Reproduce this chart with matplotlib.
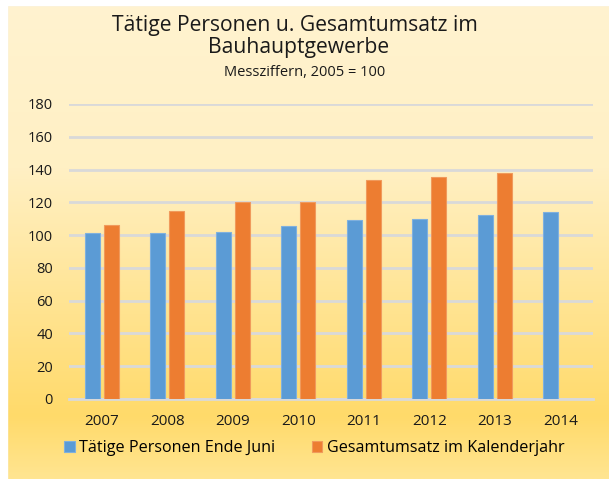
import matplotlib.pyplot as plt
import numpy as np
from matplotlib.colors import LinearSegmentedColormap
from matplotlib.patches import Rectangle

# Data
years = ["2007", "2008", "2009", "2010", "2011", "2012", "2013", "2014"]
personen = [101.0, 101.5, 102.0, 105.5, 109.0, 110.0, 112.5, 114.0]
umsatz = [106.0, 114.5, 120.0, 120.0, 133.5, 135.5, 138.0, None]
yticks = [0, 20, 40, 60, 80, 100, 120, 140, 160, 180]

plt.rcParams['font.family'] = ['Open Sans', 'DejaVu Sans']

fig = plt.figure(figsize=(6.09, 4.79), dpi=100)
fig.patch.set_facecolor('white')

# gradient background
bg = fig.add_axes([0, 0, 1, 1], zorder=-10)
cmap = LinearSegmentedColormap.from_list(
    'bg', [(0, '#FFF3D0'), (0.35, '#FFF0C4'), (0.87, '#FFDA6A'), (1, '#FFE591')])
grad = np.linspace(0, 1, 256).reshape(-1, 1)
bg.imshow(grad, aspect='auto', cmap=cmap, extent=[0, 1, 0, 1], origin='upper')
bg.add_patch(Rectangle((7 / 609, -0.01), 1.0, 1 - 5 / 479 + 0.01, fill=False,
                       edgecolor='#D0D0D0', linewidth=1.5, transform=bg.transAxes))
# white margin outside frame
bg.add_patch(Rectangle((0, 0), 7 / 609, 1, color='white', transform=bg.transAxes))
bg.add_patch(Rectangle((0, 1 - 5 / 479), 1, 5 / 479, color='white', transform=bg.transAxes))
bg.set_xlim(0, 1)
bg.set_ylim(0, 1)
bg.axis('off')

ax = fig.add_axes([69 / 609, 1 - 399 / 479, (593 - 69) / 609, (399 - 104) / 479])
ax.patch.set_alpha(0)

x = np.arange(len(years))
w = 0.23
off = 0.143
ax.bar(x - off, personen, width=w, color='#5B9BD5', edgecolor='#7FB0DE', linewidth=0.8,
       label='Tätige Personen Ende Juni', zorder=3)
u_x = [xi for xi, v in zip(x, umsatz) if v is not None]
u_v = [v for v in umsatz if v is not None]
ax.bar(np.array(u_x) + off, u_v, width=w, color='#ED7D31', edgecolor='#F09A5C', linewidth=0.8,
       label='Gesamtumsatz im Kalenderjahr', zorder=3)

ax.set_ylim(0, 180)
ax.set_xlim(-0.5, len(years) - 0.5)
ax.set_yticks(yticks)
ax.set_xticks(x)
ax.set_xticklabels(years)
ax.yaxis.grid(True, color='#D9D9D9', linewidth=2, zorder=0)
ax.set_axisbelow(True)
for s in ['top', 'right', 'left']:
    ax.spines[s].set_visible(False)
ax.spines['bottom'].set_color('#D9D9D9')
ax.spines['bottom'].set_linewidth(2)
ax.tick_params(axis='both', length=0, colors='#1a1a1a')
ax.tick_params(axis='y', pad=11.5, labelsize=10.5)
ax.tick_params(axis='x', pad=10.5, labelsize=11)

fig.text(0.485, 1 - 26 / 479, 'Tätige Personen u. Gesamtumsatz im', ha='center', va='center',
         fontsize=15.2, color='#1a1a1a')
fig.text(0.49, 1 - 48 / 479, 'Bauhauptgewerbe', ha='center', va='center',
         fontsize=15.2, color='#1a1a1a')
fig.text(0.50, 1 - 72 / 479, 'Messziffern, 2005 = 100', ha='center', va='center',
         fontsize=10.5, color='#1a1a1a')

fig.legend(loc='center', bbox_to_anchor=(0.516, 1 - 448 / 479), ncol=2, frameon=False,
           fontsize=11.6, handlelength=0.65, handleheight=0.65, handletextpad=0.25,
           columnspacing=2.3)

fig.savefig('out.png', dpi=100)
